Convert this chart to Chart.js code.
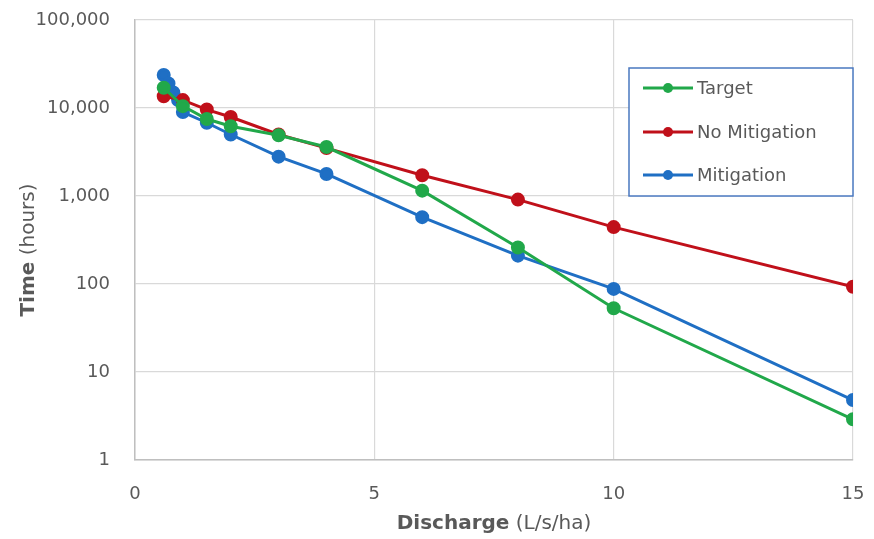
<!DOCTYPE html>
<html>
<head>
<meta charset="utf-8">
<script src="https://cdn.jsdelivr.net/npm/chart.js@4.4.0/dist/chart.umd.min.js"></script>
<style>
  html,body{margin:0;padding:0;background:#fff;}
  #wrap{width:874px;height:539px;position:relative;}
</style>
</head>
<body>
<div id="wrap"><canvas id="c" width="874" height="539"></canvas></div>
<script>
// ── DATA ──────────────────────────────────────────────────
const Y_TICKS = [1, 10, 100, 1000, 10000, 100000];

const TARGET_X = [0.6, 1, 1.5, 2, 3, 4, 6, 8, 10, 15];
const TARGET_Y = [17000, 10500, 7500, 6200, 4900, 3600, 1150, 260, 53, 2.9];

const NOMIT_X = [0.6, 1, 1.5, 2, 3, 4, 6, 8, 10, 15];
const NOMIT_Y = [13600, 12300, 9600, 7900, 5000, 3500, 1720, 910, 443, 93];

const MIT_X = [0.6, 0.7, 0.8, 0.9, 1, 1.5, 2, 3, 4, 6, 8, 10, 15];
const MIT_Y = [23700, 19000, 15000, 12300, 9000, 6800, 5000, 2800, 1780, 575, 210, 88, 4.8];

const SERIES = [
  { label:'Target',        xs:TARGET_X, ys:TARGET_Y, color:'#21a84a' },
  { label:'No Mitigation', xs:NOMIT_X,  ys:NOMIT_Y,  color:'#c0101a' },
  { label:'Mitigation',    xs:MIT_X,    ys:MIT_Y,    color:'#1f6fc4' },
];

const TXT = '#595959';
const FONT = "'DejaVu Sans', sans-serif";

// ── PLUGINS ───────────────────────────────────────────────
const boxLegend = {
  id:'boxLegend',
  afterDraw(chart) {
    const ctx = chart.ctx;
    const x0 = 629, y0 = 68, w = 224, h = 128;
    ctx.save();
    ctx.fillStyle = '#fff';
    ctx.fillRect(x0, y0, w, h);
    ctx.strokeStyle = '#4a78c0';
    ctx.lineWidth = 1.5;
    ctx.strokeRect(x0, y0, w, h);
    const rows = [88, 132, 175];
    chart.data.datasets.forEach((ds, i) => {
      const y = rows[i];
      ctx.strokeStyle = ds.borderColor;
      ctx.lineWidth = 3;
      ctx.beginPath(); ctx.moveTo(643, y); ctx.lineTo(693, y); ctx.stroke();
      ctx.fillStyle = ds.borderColor;
      ctx.beginPath(); ctx.arc(668, y, 5, 0, Math.PI*2); ctx.fill();
      ctx.fillStyle = TXT;
      ctx.font = `18px ${FONT}`;
      ctx.textBaseline = 'middle';
      ctx.textAlign = 'left';
      ctx.fillText(ds.label, 697, y + 1);
    });
    ctx.restore();
  }
};

const axisTitles = {
  id:'axisTitles',
  afterDraw(chart) {
    const ctx = chart.ctx;
    ctx.save();
    ctx.fillStyle = TXT;
    ctx.textBaseline = 'middle';
    // x title
    const bold = 'Discharge', rest = ' (L/s/ha)';
    ctx.font = `bold 20px ${FONT}`;
    const wb = ctx.measureText(bold).width;
    ctx.font = `20px ${FONT}`;
    const wr = ctx.measureText(rest).width;
    let sx = 494 - (wb + wr) / 2;
    ctx.textAlign = 'left';
    ctx.font = `bold 20px ${FONT}`;
    ctx.fillText(bold, sx, 524);
    ctx.font = `20px ${FONT}`;
    ctx.fillText(rest, sx + wb, 524);
    // y title
    ctx.translate(29, 250);
    ctx.rotate(-Math.PI/2);
    const yb = 'Time', yr = ' (hours)';
    ctx.font = `bold 20px ${FONT}`;
    const wyb = ctx.measureText(yb).width;
    ctx.font = `20px ${FONT}`;
    const wyr = ctx.measureText(yr).width;
    const s = -(wyb + wyr) / 2;
    ctx.font = `bold 20px ${FONT}`;
    ctx.fillText(yb, s, 0);
    ctx.font = `20px ${FONT}`;
    ctx.fillText(yr, s + wyb, 0);
    ctx.restore();
  }
};

// ── CHART ─────────────────────────────────────────────────
new Chart(document.getElementById('c').getContext('2d'), {
  type:'line',
  data:{
    datasets: SERIES.map(s => ({
      label:s.label,
      data:s.xs.map((x,i) => ({ x, y:s.ys[i] })),
      borderColor:s.color,
      backgroundColor:s.color,
      pointBackgroundColor:s.color,
      pointBorderColor:s.color,
      borderWidth:3,
      pointRadius:5.5,
      tension:0,
      fill:false,
    }))
  },
  options:{
    responsive:false,
    animation:false,
    layout:{ padding:{ left:0, right:21, top:20, bottom:0 } },
    plugins:{ legend:{ display:false }, tooltip:{ enabled:false } },
    scales:{
      x:{
        type:'linear', min:0, max:15,
        ticks:{ stepSize:5, color:TXT, font:{ family:FONT, size:18 }, padding:24 },
        grid:{ color:'#d9d9d9', lineWidth:1.2, drawTicks:false },
        border:{ color:'#bfbfbf', width:1.5 },
        afterFit(scale){ scale.height = 79; scale.paddingLeft = 0; scale.paddingRight = 0; },
      },
      y:{
        type:'logarithmic', min:1, max:100000,
        afterBuildTicks(scale){ scale.ticks = Y_TICKS.map(v => ({ value:v })); },
        ticks:{ color:TXT, font:{ family:FONT, size:18 }, padding:25,
          callback:v => Number(v).toLocaleString('en-US') },
        grid:{ color:'#d9d9d9', lineWidth:1.2, drawTicks:false },
        border:{ color:'#bfbfbf', width:1.5 },
        afterFit(scale){ scale.width = 135; scale.paddingTop = 0; scale.paddingBottom = 0; },
      }
    }
  },
  plugins:[boxLegend, axisTitles]
});
</script>
</body>
</html>
